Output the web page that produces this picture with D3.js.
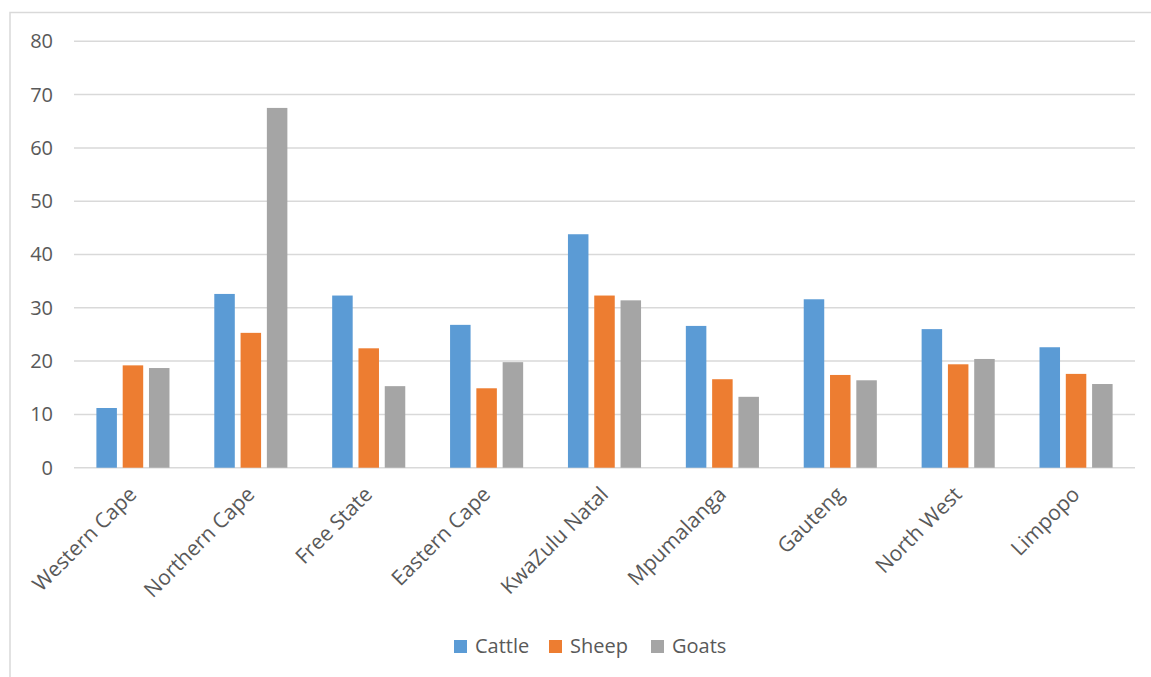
<!DOCTYPE html>
<html>
<head>
<meta charset="utf-8">
<script src="https://cdn.jsdelivr.net/npm/d3@7"></script>
<style>
  body { margin: 0; background: #fff; }
  text { font-family: "Open Sans", sans-serif; fill: #595959; }
</style>
</head>
<body>
<div id="chart"></div>
<script>
var provinces = ["Western Cape", "Northern Cape", "Free State", "Eastern Cape", "KwaZulu Natal", "Mpumalanga", "Gauteng", "North West", "Limpopo"];
var seriesNames = ["Cattle", "Sheep", "Goats"];
var cattle = [11.2, 32.6, 32.3, 26.8, 43.8, 26.6, 31.6, 26.0, 22.6];
var sheep  = [19.2, 25.3, 22.4, 14.9, 32.3, 16.6, 17.4, 19.4, 17.6];
var goats  = [18.7, 67.5, 15.3, 19.8, 31.4, 13.3, 16.4, 20.4, 15.7];
var yTicks = [0, 10, 20, 30, 40, 50, 60, 70, 80];
var colors = ["#5B9BD5", "#ED7D31", "#A5A5A5"];

var svgWidth = 1151, svgHeight = 677;
var margin = {top: 41.3, left: 74},
    width = 1135 - margin.left,
    height = 467.7 - margin.top;

var svg = d3.select("#chart")
  .append("svg")
    .attr("width", svgWidth)
    .attr("height", svgHeight);

// chart border (right and bottom edges fall outside the picture)
svg.append("rect")
  .attr("x", 10).attr("y", 12.5)
  .attr("width", 1160).attr("height", 700)
  .attr("fill", "none")
  .attr("stroke", "#d9d9d9")
  .attr("stroke-width", 1.5);

var g = svg.append("g")
  .attr("transform", `translate(${margin.left},${margin.top})`);

var table = provinces.map((p, i) => ({province: p, values: [cattle[i], sheep[i], goats[i]]}));

var x0 = d3.scaleBand()
  .domain(provinces)
  .range([0, width])
  .paddingInner(0.38)
  .paddingOuter(0.19);

var x1 = d3.scaleBand()
  .domain(seriesNames)
  .range([0, x0.bandwidth()])
  .paddingInner(0.22);

var y = d3.scaleLinear()
  .domain([0, 80])
  .range([height, 0]);

// gridlines
g.append("g")
  .selectAll("line")
  .data(yTicks)
  .join("line")
    .attr("x1", 0).attr("x2", width)
    .attr("y1", d => y(d)).attr("y2", d => y(d))
    .attr("stroke", "#d9d9d9")
    .attr("stroke-width", 1.5);

// y axis labels
var yAxis = g.append("g")
  .call(d3.axisLeft(y).tickValues(yTicks).tickSize(0).tickPadding(21));
yAxis.select(".domain").remove();
yAxis.selectAll("text")
  .style("font-size", "20px")
  .attr("fill", "#595959");

// bars
g.append("g")
  .selectAll("g")
  .data(table)
  .join("g")
    .attr("transform", d => `translate(${x0(d.province)},0)`)
  .selectAll("rect")
  .data(d => d.values.map((v, i) => ({name: seriesNames[i], value: v, i: i})))
  .join("rect")
    .attr("x", d => x1(d.name))
    .attr("y", d => y(d.value))
    .attr("width", x1.bandwidth())
    .attr("height", d => height - y(d.value))
    .attr("fill", d => colors[d.i]);

// x axis labels
var xAxis = g.append("g")
  .attr("transform", `translate(0,${height})`)
  .call(d3.axisBottom(x0).tickSize(0).tickPadding(0));
xAxis.select(".domain").remove();
xAxis.selectAll("text")
  .style("font-size", "21px")
  .attr("fill", "#595959")
  .attr("text-anchor", "end")
  .attr("dy", null)
  .attr("transform", "translate(5,28) rotate(-45)");

// legend
var legendX = [454, 549, 651];
var legend = svg.append("g")
  .selectAll("g")
  .data(seriesNames)
  .join("g")
    .attr("transform", (d, i) => `translate(${legendX[i]},640)`);
legend.append("rect")
  .attr("width", 13).attr("height", 13)
  .attr("fill", (d, i) => colors[i]);
legend.append("text")
  .attr("x", 21).attr("y", 13)
  .style("font-size", "20px")
  .text(d => d);
</script>
</body>
</html>
